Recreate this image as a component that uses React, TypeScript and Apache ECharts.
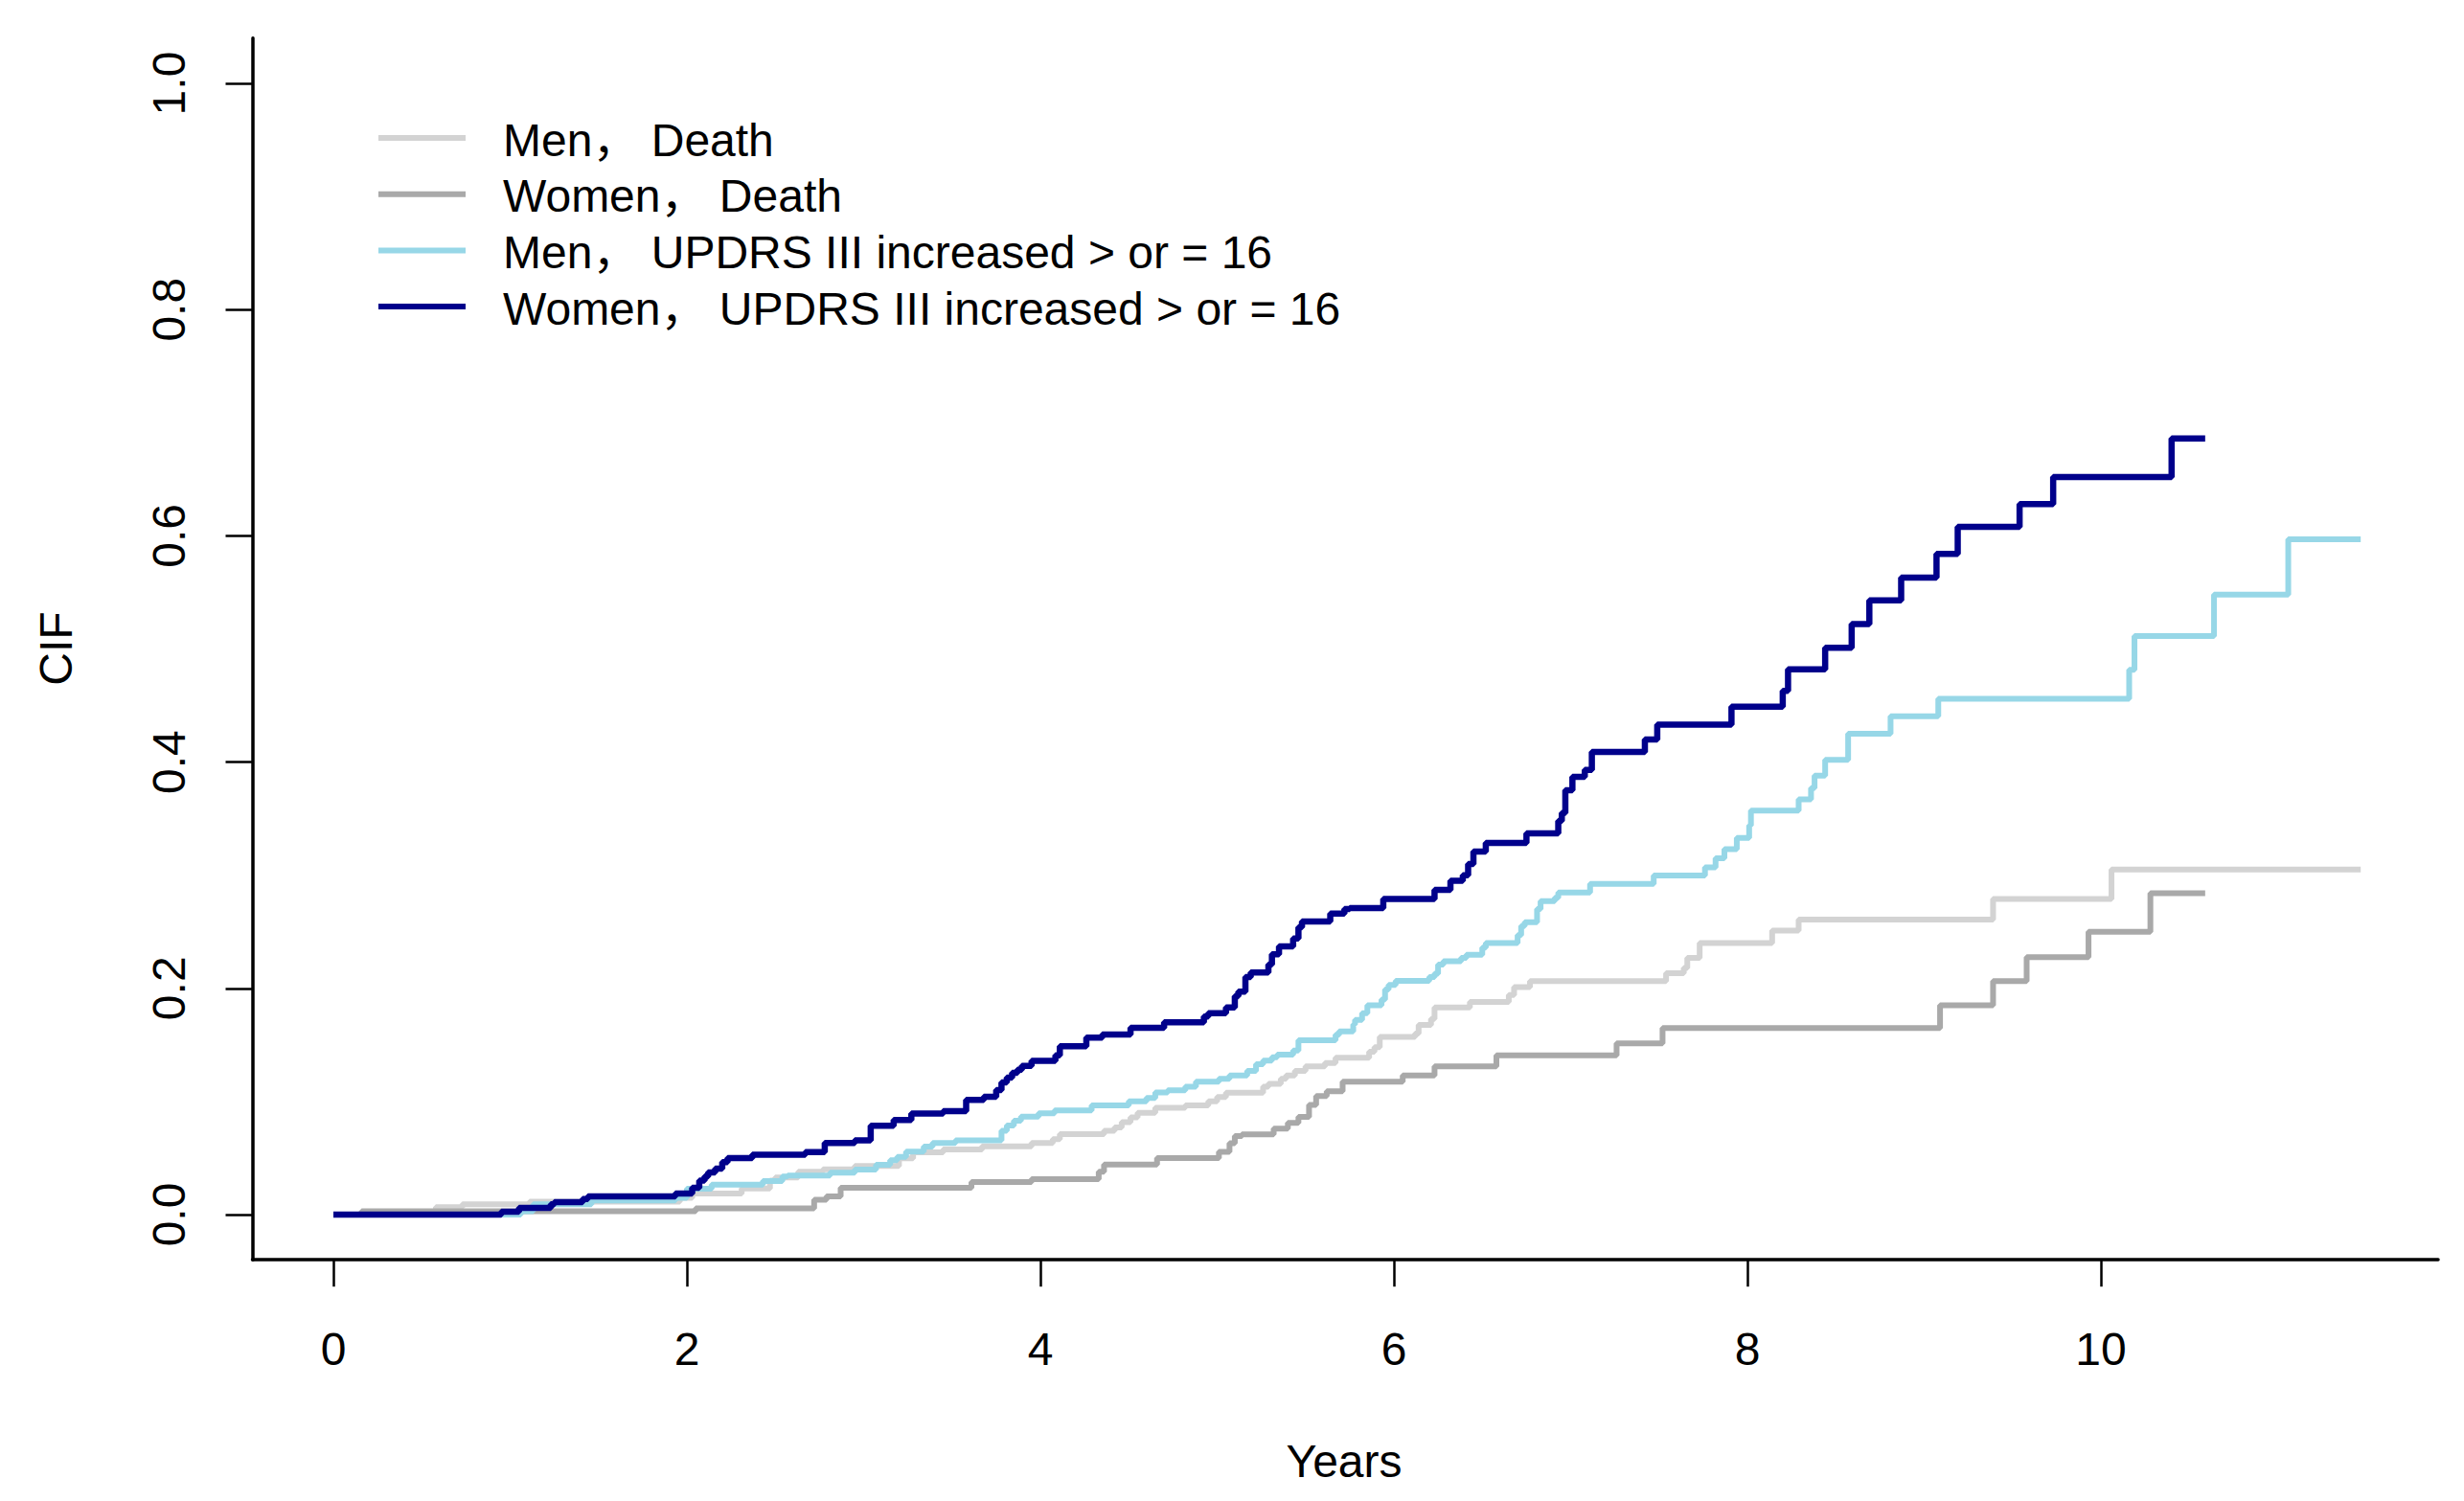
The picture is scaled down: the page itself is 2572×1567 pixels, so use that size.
import React, { useEffect, useRef } from "react";
import * as echarts from "echarts";

// ---- Data (years, CIF) ----
const xTicks = [0, 2, 4, 6, 8, 10];
const yTicks = [0, 0.2, 0.4, 0.6, 0.8, 1.0];

const seriesNames = [
  "Men\uFF0C Death",
  "Women\uFF0C Death",
  "Men\uFF0C UPDRS III increased > or = 16",
  "Women\uFF0C UPDRS III increased > or = 16",
];
const legendLabels = [
  "Men\uFF0C Death",
  "Women\uFF0C Death",
  "Men\uFF0C UPDRS III increased > or = 16",
  "Women\uFF0C UPDRS III increased > or = 16",
];
const seriesColors = ["#d3d3d3", "#a9a9a9", "#97d7e7", "#00008b"];

const menDeath: [number, number][] = [
  [0, 0], [0.58, 0.0065], [0.73, 0.009], [1.11, 0.0115], [1.96, 0.0147], [2.03, 0.0186],
  [2.31, 0.023], [2.47, 0.03], [2.5, 0.0327], [2.63, 0.0378], [2.77, 0.04], [2.95, 0.0429],
  [3.2, 0.0497], [3.28, 0.055], [3.45, 0.0576], [3.67, 0.0604], [3.95, 0.0632], [4.07, 0.0666],
  [4.11, 0.0711], [4.36, 0.074], [4.42, 0.077], [4.46, 0.0816], [4.51, 0.086], [4.55, 0.09],
  [4.65, 0.0943], [4.82, 0.0965], [4.95, 0.1], [5.0, 0.104], [5.05, 0.1078], [5.26, 0.113],
  [5.29, 0.1155], [5.36, 0.12], [5.39, 0.123], [5.44, 0.127], [5.5, 0.131], [5.61, 0.134],
  [5.67, 0.1386], [5.86, 0.144], [5.89, 0.148], [5.92, 0.157], [6.12, 0.16], [6.14, 0.1677],
  [6.21, 0.173], [6.23, 0.183], [6.43, 0.188], [6.65, 0.194], [6.68, 0.201], [6.77, 0.2063],
  [7.54, 0.2134], [7.64, 0.218], [7.66, 0.227], [7.73, 0.24], [8.14, 0.251], [8.29, 0.2608],
  [9.39, 0.279], [10.06, 0.305], [11.47, 0.305],
];

const womenDeath: [number, number][] = [
  [0, 0], [0.16, 0.003], [2.05, 0.0055], [2.72, 0.013], [2.79, 0.016], [2.87, 0.0237],
  [3.61, 0.0288], [3.95, 0.0313], [4.33, 0.0378], [4.36, 0.0443], [4.66, 0.05], [5.01, 0.0555],
  [5.07, 0.063], [5.1, 0.0695], [5.14, 0.0708], [5.32, 0.0759], [5.4, 0.081], [5.46, 0.0864],
  [5.52, 0.097], [5.56, 0.1047], [5.62, 0.109], [5.71, 0.1174], [6.05, 0.123], [6.23, 0.131],
  [6.58, 0.1408], [7.26, 0.1513], [7.52, 0.1648], [9.09, 0.185], [9.39, 0.2063], [9.58, 0.2275],
  [9.93, 0.25], [10.28, 0.284], [10.59, 0.284],
];

const menUpdrs: [number, number][] = [
  [0, 0], [1.06, 0.003], [1.13, 0.009], [1.46, 0.0124], [1.935, 0.0147], [2.0, 0.0229],
  [2.14, 0.0265], [2.43, 0.0296], [2.54, 0.0336], [2.57, 0.0344], [2.81, 0.037], [2.95, 0.0398],
  [3.07, 0.044], [3.15, 0.048], [3.19, 0.051], [3.24, 0.0556], [3.34, 0.06], [3.39, 0.0632],
  [3.52, 0.0655], [3.78, 0.074], [3.81, 0.0787], [3.85, 0.083], [3.89, 0.0866], [3.99, 0.0895],
  [4.08, 0.092], [4.29, 0.0965], [4.5, 0.1], [4.6, 0.103], [4.65, 0.108], [4.72, 0.1098],
  [4.82, 0.113], [4.88, 0.1174], [5.01, 0.12], [5.07, 0.123], [5.17, 0.127], [5.22, 0.133],
  [5.26, 0.1361], [5.31, 0.139], [5.34, 0.1414], [5.43, 0.145], [5.46, 0.154], [5.67, 0.159],
  [5.69, 0.162], [5.77, 0.168], [5.78, 0.172], [5.82, 0.178], [5.85, 0.185], [5.93, 0.19],
  [5.95, 0.199], [5.97, 0.203], [6.01, 0.2066], [6.2, 0.21], [6.23, 0.213], [6.25, 0.221],
  [6.28, 0.224], [6.38, 0.227], [6.41, 0.2297], [6.5, 0.236], [6.52, 0.24], [6.7, 0.247],
  [6.72, 0.255], [6.74, 0.2585], [6.81, 0.27], [6.83, 0.277], [6.91, 0.28], [6.93, 0.2848],
  [7.11, 0.2924], [7.47, 0.2998], [7.76, 0.307], [7.82, 0.315], [7.87, 0.323], [7.94, 0.333],
  [8.01, 0.344], [8.02, 0.357], [8.29, 0.367], [8.36, 0.377], [8.38, 0.388], [8.44, 0.402],
  [8.57, 0.425], [8.81, 0.4406], [9.08, 0.456], [10.16, 0.4815], [10.19, 0.5114], [10.64, 0.548],
  [11.06, 0.597], [11.47, 0.597],
];

const womenUpdrs: [number, number][] = [
  [0, 0], [0.95, 0.0025], [1.05, 0.006], [1.23, 0.009], [1.25, 0.011], [1.41, 0.0138],
  [1.44, 0.0161], [1.935, 0.0186], [2.03, 0.0237], [2.07, 0.03], [2.1, 0.0336], [2.12, 0.0373],
  [2.16, 0.0406], [2.2, 0.0463], [2.23, 0.05], [2.37, 0.0528], [2.67, 0.0553], [2.78, 0.0632],
  [2.95, 0.0655], [3.04, 0.0785], [3.17, 0.0836], [3.27, 0.0892], [3.45, 0.0914], [3.58, 0.1013],
  [3.68, 0.1042], [3.75, 0.11], [3.78, 0.1169], [3.81, 0.1211], [3.84, 0.1253], [3.87, 0.128],
  [3.895, 0.1315], [3.95, 0.1358], [4.085, 0.1408], [4.11, 0.1488], [4.26, 0.1564], [4.35, 0.1592],
  [4.51, 0.165], [4.7, 0.17], [4.925, 0.175], [4.95, 0.178], [5.05, 0.183], [5.1, 0.193],
  [5.12, 0.197], [5.16, 0.21], [5.19, 0.214], [5.29, 0.221], [5.31, 0.23], [5.35, 0.237],
  [5.43, 0.244], [5.46, 0.254], [5.48, 0.259], [5.64, 0.266], [5.72, 0.27], [5.75, 0.271],
  [5.94, 0.279], [6.23, 0.287], [6.32, 0.295], [6.39, 0.3], [6.42, 0.31], [6.45, 0.321],
  [6.52, 0.3285], [6.75, 0.337], [6.93, 0.348], [6.95, 0.355], [6.97, 0.375], [7.01, 0.387],
  [7.08, 0.393], [7.12, 0.409], [7.42, 0.42], [7.49, 0.433], [7.91, 0.449], [8.2, 0.463],
  [8.23, 0.482], [8.44, 0.501], [8.59, 0.522], [8.69, 0.543], [8.87, 0.563], [9.07, 0.584],
  [9.19, 0.608], [9.54, 0.628], [9.73, 0.652], [10.4, 0.686], [10.59, 0.686],
];

const allSeries = [menDeath, womenDeath, menUpdrs, womenUpdrs];

const FONT = "'Liberation Sans', Arial, 'Noto Sans CJK SC', sans-serif";

export default function App() {
  const ref = useRef<HTMLDivElement>(null);

  useEffect(() => {
    if (!ref.current) return;
    const chart = echarts.init(ref.current, undefined, { renderer: "svg" });

    const legendTop = 144;
    const legendStep = 58.7;
    const legendGraphics: any[] = [];
    legendLabels.forEach((label, i) => {
      const y = legendTop + i * legendStep;
      legendGraphics.push({
        type: "line",
        shape: { x1: 395, y1: y, x2: 486, y2: y },
        style: { stroke: seriesColors[i], lineWidth: 6 },
      });
      legendGraphics.push({
        type: "text",
        x: 525,
        y: y + 2,
        style: {
          text: label,
          fill: "#000",
          font: `48px ${FONT}`,
          textAlign: "left",
          textVerticalAlign: "middle",
        },
      });
    });

    chart.setOption({
      animation: false,
      backgroundColor: "#ffffff",
      grid: { left: 263.5, top: 39.8, width: 2281.5, height: 1275.4, containLabel: false },
      xAxis: {
        type: "value",
        min: -0.458,
        max: 11.908,
        splitLine: { show: false },
        axisLine: { show: true, onZero: false, lineStyle: { color: "#000", width: 3.5 } },
        axisTick: { show: true, length: 28, inside: false, customValues: xTicks, lineStyle: { color: "#000", width: 2.5 } },
        axisLabel: {
          show: true,
          customValues: xTicks,
          margin: 69,
          color: "#000",
          fontSize: 48,
          fontFamily: FONT,
          formatter: (v: number) => String(v),
        },
      },
      yAxis: {
        type: "value",
        min: -0.04,
        max: 1.04,
        splitLine: { show: false },
        axisLine: { show: true, onZero: false, lineStyle: { color: "#000", width: 3.5 } },
        axisTick: { show: true, length: 28, inside: false, customValues: yTicks, lineStyle: { color: "#000", width: 2.5 } },
        axisLabel: {
          show: true,
          customValues: yTicks,
          rotate: 90,
          margin: 63,
          color: "#000",
          fontSize: 48,
          fontFamily: FONT,
          formatter: (v: number) => v.toFixed(1),
        },
      },
      series: allSeries.map((data, i) => ({
        name: seriesNames[i],
        type: "line",
        step: "end",
        data,
        symbol: "none",
        showSymbol: false,
        clip: true,
        lineStyle: { color: seriesColors[i], width: i === 3 ? 6.5 : 6 },
        itemStyle: { color: seriesColors[i] },
        z: 2 + i,
      })),
      graphic: [
        {
          type: "text",
          x: 58,
          y: 677,
          rotation: Math.PI / 2,
          style: {
            text: "CIF",
            fill: "#000",
            font: `48px ${FONT}`,
            textAlign: "center",
            textVerticalAlign: "middle",
          },
        },
        {
          type: "text",
          x: 1403,
          y: 1525,
          style: {
            text: "Years",
            fill: "#000",
            font: `48px ${FONT}`,
            textAlign: "center",
            textVerticalAlign: "middle",
          },
        },
        ...legendGraphics,
      ],
    });

    return () => {
      chart.dispose();
    };
  }, []);

  return (
    <div
      ref={ref}
      style={{ position: "absolute", left: 0, top: 0, width: 2572, height: 1567, background: "#fff" }}
    />
  );
}
